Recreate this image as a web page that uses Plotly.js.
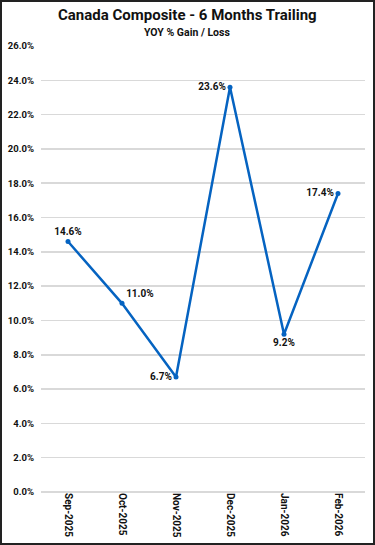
<!DOCTYPE html>
<html>
<head>
<meta charset="utf-8">
<script src="https://cdn.plot.ly/plotly-3.0.1.min.js"></script>
<style>
html,body{margin:0;padding:0;background:#fff;}
#frame{width:375px;height:545px;box-sizing:border-box;border:2px solid #222;overflow:hidden;}
#chart{width:371px;height:541px;}
</style>
</head>
<body>
<div id="frame"><div id="chart"></div></div>
<script>
const months = ["Sep-2025","Oct-2025","Nov-2025","Dec-2025","Jan-2026","Feb-2026"];
const yoyGain = [14.6, 11.0, 6.7, 23.6, 9.2, 17.4];
const labelPositions = ["top center","top right","middle left","middle left","bottom center","middle left"];
const chartTitle = "Canada Composite - 6 Months Trailing";
const chartSubtitle = "YOY % Gain / Loss";

const trace = {
  x: months,
  y: yoyGain,
  type: "scatter",
  mode: "lines+markers+text",
  line: {color: "#0563C1", width: 2.5},
  marker: {color: "#0563C1", size: 5},
  text: yoyGain.map(v => v.toFixed(1) + "%"),
  textposition: labelPositions,
  textfont: {family: "Roboto", size: 10, color: "#111", weight: "bold"},
  cliponaxis: false,
  hoverinfo: "skip"
};

const layout = {
  width: 371, height: 541,
  margin: {l: 39, r: 8, t: 44, b: 51},
  paper_bgcolor: "#fff", plot_bgcolor: "#fff",
  showlegend: false,
  font: {family: "Roboto", color: "#111"},
  annotations: [
    {text: "<b>" + chartTitle + "</b>", xref: "paper", yref: "paper", x: 0.452, y: 1.0695,
     xanchor: "center", yanchor: "middle", showarrow: false,
     font: {family: "Roboto", size: 15, color: "#111"}},
    {text: "<b>" + chartSubtitle + "</b>", xref: "paper", yref: "paper", x: 0.452, y: 1.031,
     xanchor: "center", yanchor: "middle", showarrow: false,
     font: {family: "Roboto", size: 10.5, color: "#111"}}
  ],
  xaxis: {
    type: "category",
    range: [-0.5, 5.5],
    tickangle: 90,
    tickfont: {family: "Roboto", size: 10, color: "#111", weight: "bold"},
    showgrid: false, zeroline: false, showline: false, ticks: ""
  },
  yaxis: {
    range: [0, 26], dtick: 2,
    tickformat: ".1f", ticksuffix: "%",
    tickfont: {family: "Roboto", size: 9.5, color: "#111", weight: "bold"},
    gridcolor: "#d9d9d9", gridwidth: 1.5,
    zeroline: true, zerolinecolor: "#d9d9d9", zerolinewidth: 1.5,
    showline: false, ticks: "", ticklabelstandoff: 6
  }
};

Plotly.newPlot("chart", [trace], layout, {displayModeBar: false, staticPlot: true});
</script>
</body>
</html>
